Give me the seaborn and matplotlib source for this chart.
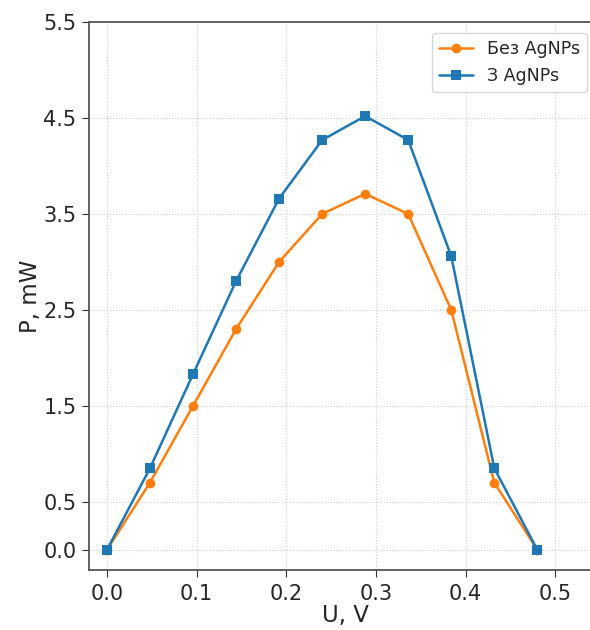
import numpy as np
import pandas as pd
import matplotlib
matplotlib.use("Agg")
import matplotlib.pyplot as plt
import seaborn as sns

u = [0.0, 0.048, 0.096, 0.144, 0.192, 0.24, 0.288, 0.336, 0.384, 0.432, 0.48]
p_bez = [0.0, 0.70, 1.50, 2.30, 3.00, 3.50, 3.71, 3.50, 2.50, 0.70, 0.0]
p_z = [0.0, 0.85, 1.83, 2.80, 3.66, 4.27, 4.52, 4.27, 3.06, 0.85, 0.0]
labels = ["Без AgNPs", "З AgNPs"]

df = pd.DataFrame({
    "U": u + u,
    "P": p_bez + p_z,
    "series": [labels[0]] * len(u) + [labels[1]] * len(u),
})

sns.set_style("ticks")
plt.rcParams['font.family'] = ['DejaVu Sans']

fig = plt.figure(figsize=(5.9, 6.3), dpi=100)
ax = fig.add_axes([89 / 590, 1 - 570 / 630, 512 / 590, (570 - 22) / 630])

sns.lineplot(data=df, x="U", y="P", hue="series", style="series",
             hue_order=labels, style_order=labels,
             palette=["#ff7f0e", "#1f77b4"], markers=["o", "s"], dashes=False,
             markersize=7, linewidth=1.8, markeredgewidth=0, ax=ax)

ax.set_xlim(-0.02, 0.551)
ax.set_ylim(-0.21, 5.5)
ax.set_xticks([0.0, 0.1, 0.2, 0.3, 0.4, 0.5])
ax.set_yticks([0.0, 0.5, 1.5, 2.5, 3.5, 4.5, 5.5])
ax.tick_params(labelsize=15, length=5, color="#333333")
ax.tick_params(axis="x", pad=5)
ax.tick_params(axis="y", pad=4)
ax.grid(True, linestyle=":", color="#cccccc", linewidth=0.8)
for s in ax.spines.values():
    s.set_color("#555555")
    s.set_linewidth(1.3)

ax.set_xlabel("U, V", fontsize=16.5, labelpad=0)
ax.set_ylabel("P, mW", fontsize=16.5, labelpad=1)
ax.legend(title=None, fontsize=12.5, loc="upper right", bbox_to_anchor=(0.99, 0.995))

fig.savefig("out.png", dpi=100)
